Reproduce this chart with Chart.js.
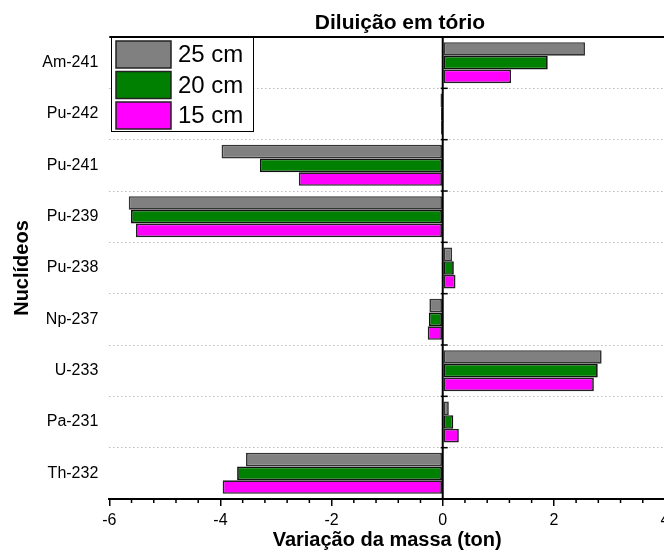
<!DOCTYPE html>
<html>
<head>
<meta charset="utf-8">
<script src="https://cdn.jsdelivr.net/npm/chart.js@4/dist/chart.umd.min.js"></script>
<style>
  html, body { margin: 0; padding: 0; background: #fff; overflow: hidden; }
  #wrap { width: 700px; height: 554px; }
</style>
</head>
<body>
<div id="wrap"><canvas id="c" width="700" height="554"></canvas></div>
<script>
// Nuclides (top to bottom) and mass variation in tons for each dilution
const nuclides = ['Am-241', 'Pu-242', 'Pu-241', 'Pu-239', 'Pu-238', 'Np-237', 'U-233', 'Pa-231', 'Th-232'];
const cm25 = [2.56, -0.04, -3.98, -5.65, 0.17, -0.24, 2.86, 0.11, -3.54];
const cm20 = [1.89, -0.03, -3.29, -5.61, 0.20, -0.25, 2.79, 0.19, -3.70];
const cm15 = [1.23, -0.03, -2.59, -5.52, 0.23, -0.27, 2.72, 0.29, -3.96];
const seriesLabels = ['25 cm', '20 cm', '15 cm'];
const xTicks = [-6, -4, -2, 0, 2, 4];

const FONT = "'Liberation Sans', Arial, sans-serif";

// Frame pieces: top line, zero line with category ticks, minor ticks on x axis
const framePlugin = {
  id: 'frame',
  afterDatasetsDraw(chart) {
    const { ctx, chartArea: a, scales: { x, y } } = chart;
    ctx.save();
    ctx.strokeStyle = '#000';
    // top border
    ctx.lineWidth = 2;
    ctx.beginPath();
    ctx.moveTo(a.left, a.top);
    ctx.lineTo(a.right, a.top);
    ctx.stroke();
    // zero line
    const x0 = x.getPixelForValue(0);
    ctx.beginPath();
    ctx.moveTo(x0, a.top);
    ctx.lineTo(x0, a.bottom);
    ctx.stroke();
    // category boundary ticks on zero line
    ctx.lineWidth = 1.5;
    for (let i = 1; i < nuclides.length; i++) {
      const yy = (y.getPixelForValue(i - 1) + y.getPixelForValue(i)) / 2;
      ctx.beginPath();
      ctx.moveTo(x0 - 2, yy);
      ctx.lineTo(x0 + 5, yy);
      ctx.stroke();
    }
    // minor ticks on bottom axis
    ctx.lineWidth = 1.5;
    for (let k = 0; k <= 25; k++) {
      if (k % 5 === 0) continue;
      const v = xTicks[0] + k * 0.4;
      const px = x.getPixelForValue(v);
      ctx.beginPath();
      ctx.moveTo(px, a.bottom);
      ctx.lineTo(px, a.bottom + 4);
      ctx.stroke();
    }
    ctx.restore();
  },
  afterDraw(chart) {
    const { ctx } = chart;
    ctx.save();
    // title
    ctx.fillStyle = '#000';
    ctx.font = 'bold 21px ' + FONT;
    ctx.textAlign = 'center';
    ctx.textBaseline = 'alphabetic';
    ctx.fillText('Diluição em tório', 400, 29);
    // legend box
    const lx = 111, ly = 37, lw = 142, lh = 94;
    ctx.fillStyle = '#fff';
    ctx.fillRect(lx, ly, lw, lh);
    ctx.strokeStyle = '#000';
    ctx.lineWidth = 1;
    ctx.strokeRect(lx + 0.5, ly + 0.5, lw, lh);
    ctx.font = '24px ' + FONT;
    ctx.textAlign = 'left';
    ctx.textBaseline = 'middle';
    chart.data.datasets.forEach((ds, i) => {
      const sy = 41 + i * 30.5;
      ctx.fillStyle = ds.backgroundColor;
      ctx.fillRect(116, sy, 55, 27);
      ctx.strokeStyle = '#222';
      ctx.lineWidth = 1.5;
      ctx.strokeRect(116, sy, 55, 27);
      ctx.fillStyle = '#000';
      ctx.fillText(ds.label, 178, sy + 14.5);
    });
    ctx.restore();
  }
};

new Chart(document.getElementById('c'), {
  type: 'bar',
  data: {
    labels: nuclides,
    datasets: [
      { label: seriesLabels[0], data: cm25, backgroundColor: '#808080', borderColor: '#333', borderWidth: 1.7, borderSkipped: false },
      { label: seriesLabels[1], data: cm20, backgroundColor: '#008000', borderColor: '#111', borderWidth: 1.7, borderSkipped: false },
      { label: seriesLabels[2], data: cm15, backgroundColor: '#ff00ff', borderColor: '#222', borderWidth: 1.7, borderSkipped: false }
    ]
  },
  options: {
    indexAxis: 'y',
    responsive: false,
    animation: false,
    devicePixelRatio: 1,
    categoryPercentage: 0.8,
    barPercentage: 1.0,
    layout: { padding: { top: 37, right: 35, left: 0, bottom: 0 } },
    plugins: { legend: { display: false }, title: { display: false }, tooltip: { enabled: false } },
    scales: {
      x: {
        type: 'linear',
        min: -6,
        max: 4,
        afterBuildTicks(scale) { scale.ticks = xTicks.map(v => ({ value: v })); },
        afterFit(scale) { scale.height = 55; },
        ticks: { color: '#000', font: { family: FONT, size: 16 }, padding: 5, maxRotation: 0 },
        grid: { drawOnChartArea: false, drawTicks: true, tickLength: 7, color: '#000', lineWidth: 1.5 },
        border: { display: true, color: '#000', width: 2 },
        title: { display: true, text: 'Variação da massa (ton)', color: '#000', font: { family: FONT, size: 20, weight: 'bold' }, padding: { top: 0, bottom: 2 } }
      },
      y: {
        type: 'category',
        afterFit(scale) { scale.width = 109.3; },
        ticks: { color: '#000', font: { family: FONT, size: 16 }, padding: 11 },
        grid: { offset: true, drawTicks: false, color: '#bdbdbd', lineWidth: 1, borderDash: [1.5, 2.5] },
        border: { display: false, dash: [1.5, 2.5] },
        title: { display: true, text: 'Nuclídeos', color: '#000', font: { family: FONT, size: 20, weight: 'bold' }, padding: { top: 10, bottom: 0 } }
      }
    }
  },
  plugins: [framePlugin]
});
</script>
</body>
</html>
